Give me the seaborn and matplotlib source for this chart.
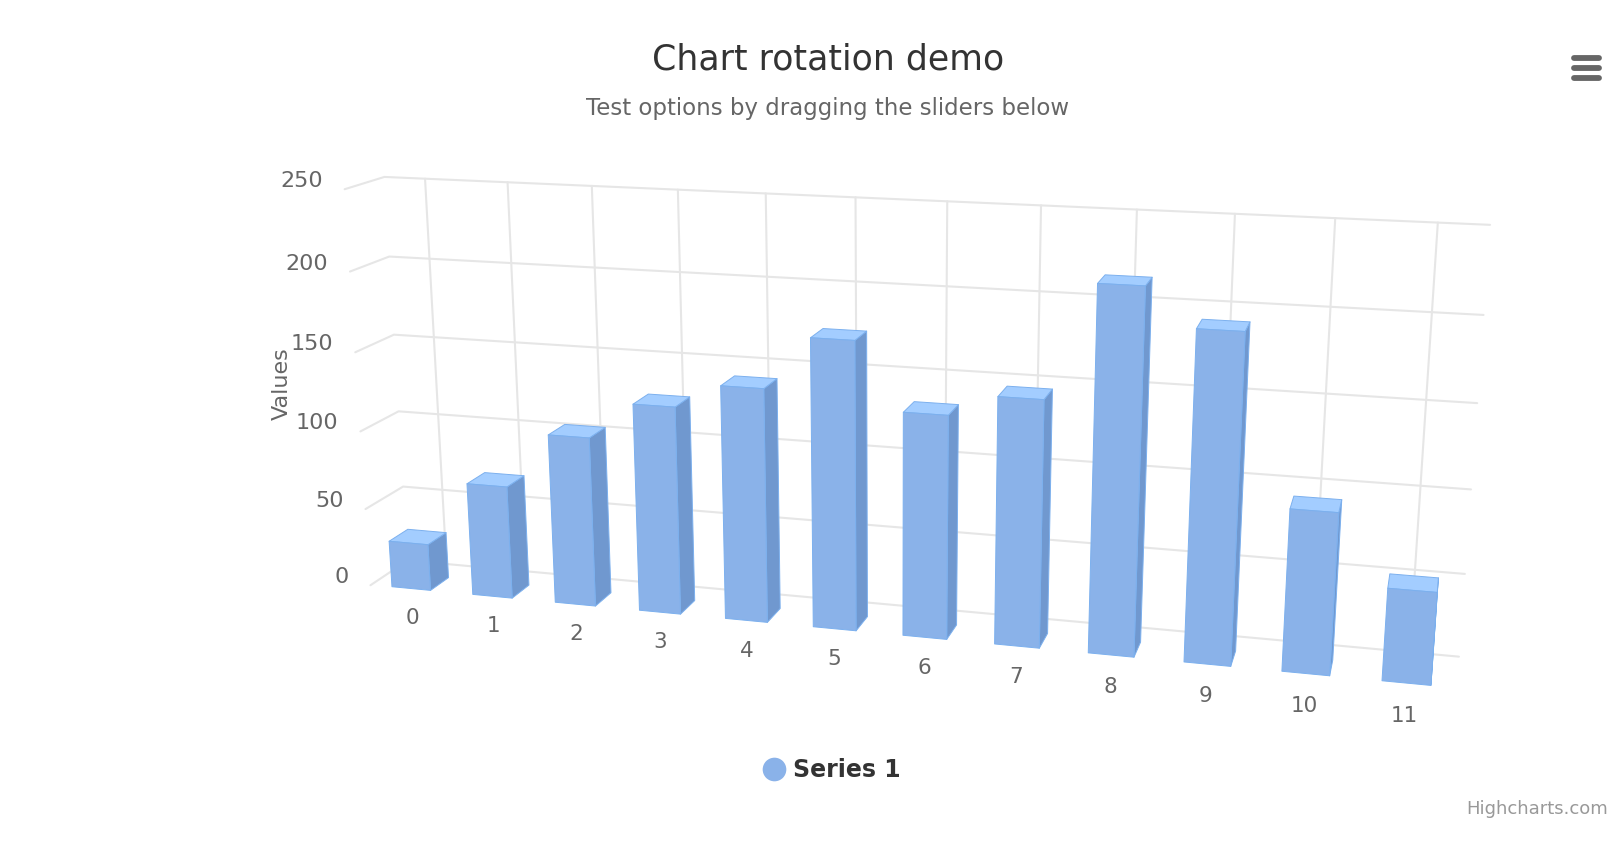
import numpy as np
import pandas as pd
import matplotlib
matplotlib.use('Agg')
import matplotlib.pyplot as plt
import seaborn as sns

categories = ['0', '1', '2', '3', '4', '5', '6', '7', '8', '9', '10', '11']
values = [29.9, 71.5, 106.4, 129.2, 144.0, 176.0, 135.6, 148.5, 216.4, 194.1, 95.6, 54.4]
y_ticks = [0, 50, 100, 150, 200, 250]
title = 'Chart rotation demo'
subtitle = 'Test options by dragging the sliders below'
y_title = 'Values'
series_name = 'Series 1'
credit = 'Highcharts.com'

# 3d view, in css pixels (the picture is 2x)
alpha, beta = np.radians(15), np.radians(15)
depth = 50
view_dist = 25 * depth
plot_w, plot_h = 661, 250
scale3d = 0.872
cx, cy = 445, 209
ymax = 250

ca, sa, cb, sb = np.cos(alpha), np.sin(alpha), np.cos(beta), np.sin(beta)


def project(x, y, z):
    # x, y relative to plot box top left, z into the screen
    x0 = x - plot_w / 2
    y0 = y - plot_h / 2
    z0 = z - depth / 2
    rx = cb * x0 + sb * z0
    ry = sa * sb * x0 + ca * y0 - sa * cb * z0
    rz = sa * y0 - ca * sb * x0 + ca * cb * z0
    p = view_dist / (rz + depth / 2 + view_dist)
    return cx + rx * p * scale3d, cy + ry * p * scale3d


def xpos(v):
    return (v + 0.5) * plot_w / 12


def ypos(v):
    return plot_h * (1 - v / ymax)


sns.set_theme(style='white')
plt.rcParams['font.family'] = ['DejaVu Sans']
blue = sns.color_palette(['#8ab2e9'])[0]
top_c = '#a3cdff'
side_c = '#7098cf'
edge_c = '#7cb0ee'

fig = plt.figure(figsize=(16.22, 8.44), dpi=100, facecolor='white')
ax = fig.add_axes([0, 0, 1, 1])

# grid lines
rows = []
n = 0
for v in y_ticks:
    pts = [project(0, ypos(v), 0), project(0, ypos(v), depth), project(plot_w, ypos(v), depth)]
    for a, b in pts:
        rows.append({'px': a, 'py': b, 'line': n})
    n += 1
for i in range(len(categories)):
    for yy in (ypos(ymax), ypos(0)):
        a, b = project(xpos(i), yy, depth)
        rows.append({'px': a, 'py': b, 'line': n})
    n += 1
grid = pd.DataFrame(rows)
sns.lineplot(data=grid, x='px', y='py', units='line', estimator=None, sort=False,
             color='#e6e6e6', lw=1.5, ax=ax, legend=False, zorder=1)

# columns
col_w = 0.48 * plot_w / 12
z0, z1 = 1, 26
for i, v in enumerate(values):
    xa, xb = xpos(i) - col_w / 2, xpos(i) + col_w / 2
    yt, yb = ypos(v), ypos(0)
    faces = []
    if project(xb, yt, z1)[0] > project(xb, yt, z0)[0]:
        faces.append(([(xb, yb, z0), (xb, yb, z1), (xb, yt, z1), (xb, yt, z0)], side_c))
    if project(xa, yt, z1)[0] < project(xa, yt, z0)[0]:
        faces.append(([(xa, yb, z0), (xa, yb, z1), (xa, yt, z1), (xa, yt, z0)], side_c))
    faces.append(([(xa, yt, z0), (xb, yt, z0), (xb, yt, z1), (xa, yt, z1)], top_c))
    faces.append(([(xa, yb, z0), (xb, yb, z0), (xb, yt, z0), (xa, yt, z0)], blue))
    for pts, c in faces:
        ax.fill(*zip(*[project(*p) for p in pts]), facecolor=c, edgecolor=edge_c, lw=0.7,
                joinstyle='round', zorder=3)

# labels
for v in y_ticks:
    a, b = project(0, ypos(v), 0)
    ax.text(a - 11, b - 4, str(v), ha='right', va='center', fontsize=16, color='#666666', zorder=5)
for i, lab in enumerate(categories):
    a, b = project(xpos(i), ypos(0) + 19, 0)
    ax.text(a, b, lab, ha='center', va='center', fontsize=15.5, color='#666666', zorder=5)

ax.text(141, 192, y_title, rotation=90, ha='center', va='center', fontsize=16, color='#666666', zorder=6)
ax.text(414, 30, title, ha='center', va='center', fontsize=25, color='#333333')
ax.text(414, 54.5, subtitle, ha='center', va='center', fontsize=16.5, color='#666666')
ax.text(423.5, 385, series_name, ha='center', va='center', fontsize=17, color='#333333', fontweight='bold')
ax.text(804, 404.5, credit, ha='right', va='center', fontsize=13, color='#999999')

legend_pt = pd.DataFrame({'px': [387], 'py': [384.5]})
sns.scatterplot(data=legend_pt, x='px', y='py', s=290, color=blue, linewidth=0, ax=ax, legend=False)

# context menu button
for yy in (29, 34, 39):
    ax.plot([787, 799.5], [yy, yy], color='#666666', lw=4.2, solid_capstyle='round')

ax.set_xlim(0, 811)
ax.set_ylim(422, 0)
ax.set_axis_off()
fig.savefig('out.png', dpi=100, facecolor='white')
